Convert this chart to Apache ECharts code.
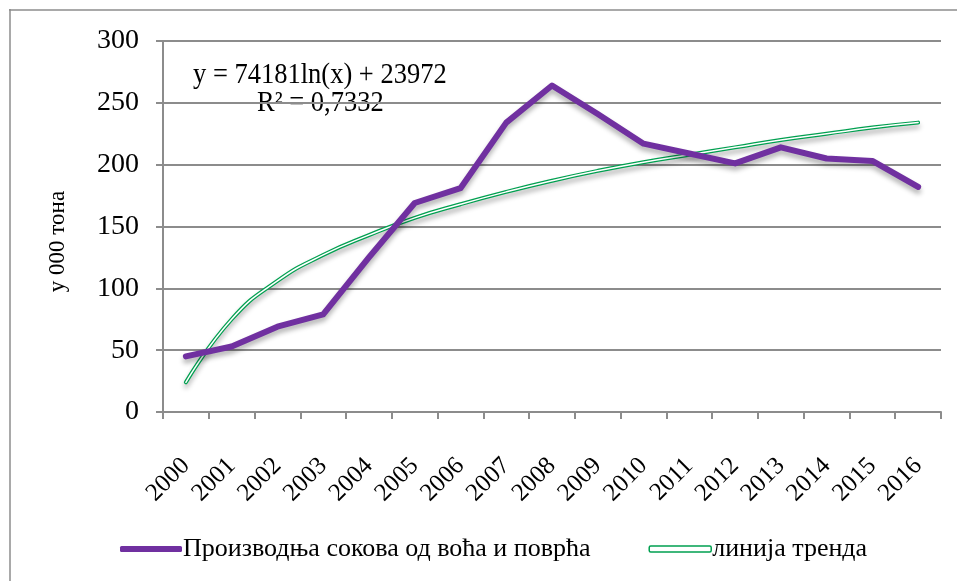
<!DOCTYPE html>
<html lang="sr">
<head>
<meta charset="UTF-8">
<title>Производња сокова</title>
<script src="https://cdn.jsdelivr.net/npm/echarts@6/dist/echarts.min.js"></script>
<style>
  html, body { margin: 0; padding: 0; background: #fff; }
  #container { width: 957px; height: 581px; }
</style>
</head>
<body>
<div id="container"></div>
<script type="text/javascript">
// година
var years = ['2000','2001','2002','2003','2004','2005','2006','2007','2008',
             '2009','2010','2011','2012','2013','2014','2015','2016'];
// производња, у 000 тона
var production = [45, 53, 69, 79, 125, 169, 181, 234, 264, 241, 217, 209, 201, 214, 205, 203, 182];
// линија тренда (očitano sa slike)
var trend = [24, 75, 106, 127, 143, 157, 168, 178, 187, 195, 202, 208, 214, 220, 225, 230, 234];
var yTicks = { min: 0, max: 300, step: 50 };

var seriesName = 'Производња сокова од воћа и поврћа';
var trendName = 'линија тренда';
var serif = '"Liberation Serif", "DejaVu Serif", serif';

var dom = document.getElementById('container');
var myChart = echarts.init(dom);

var option = {
    backgroundColor: '#fff',
    animation: false,
    grid: { left: 163, right: 16, top: 41, bottom: 169 },
    graphic: [
        { type: 'line', shape: { x1: 9, y1: 10, x2: 957, y2: 10 }, style: { stroke: '#8c8c8c', lineWidth: 1.5 } },
        { type: 'line', shape: { x1: 10, y1: 9, x2: 10, y2: 581 }, style: { stroke: '#8c8c8c', lineWidth: 1.5 } },
        { type: 'text', left: 193, top: 61, scaleY: 1.1, style: { text: 'y = 74181ln(x) + 23972', font: '26.5px ' + serif, fill: '#000' } },
        { type: 'text', left: 257, top: 89, scaleY: 1.1, style: { text: 'R² = 0,7332', font: '26.5px ' + serif, fill: '#000' } }
    ],
    legend: {
        bottom: 14,
        left: 115,
        itemWidth: 62,
        itemHeight: 6,
        itemGap: 58,
        textStyle: { fontFamily: serif, fontSize: 26, color: '#000', padding: [0, 0, 0, -4] },
        data: [
            { name: seriesName, icon: 'roundRect', itemStyle: { color: '#7030a0' } },
            { name: trendName, icon: 'roundRect', itemStyle: { color: '#fff', borderColor: '#00a050', borderWidth: 1.5 } }
        ]
    },
    xAxis: {
        type: 'category',
        data: years,
        boundaryGap: true,
        axisLine: { lineStyle: { color: '#8c8c8c', width: 2 } },
        axisTick: { show: true, interval: 0, length: 7, lineStyle: { color: '#8c8c8c', width: 2 } },
        axisLabel: { rotate: 45, interval: 0, margin: 50, fontFamily: serif, fontSize: 25, color: '#000' }
    },
    yAxis: {
        type: 'value',
        min: yTicks.min,
        max: yTicks.max,
        interval: yTicks.step,
        name: 'у 000 тона',
        nameLocation: 'middle',
        nameGap: 94,
        nameTextStyle: { fontFamily: serif, fontSize: 23, color: '#000', padding: [0, 30, 0, 0] },
        axisLine: { show: true, lineStyle: { color: '#8c8c8c', width: 2 } },
        axisTick: { show: true, length: 7, lineStyle: { color: '#8c8c8c', width: 2 } },
        axisLabel: { margin: 24, fontFamily: serif, fontSize: 28, color: '#000' },
        splitLine: { lineStyle: { color: '#8c8c8c', width: 2 } }
    },
    series: [
        {
            name: trendName,
            type: 'line',
            data: trend,
            smooth: true,
            symbol: 'none',
            z: 2,
            lineStyle: {
                color: '#00a050', width: 4, cap: 'round',
                shadowColor: 'rgba(0,0,0,0.3)', shadowBlur: 5, shadowOffsetY: 4
            }
        },
        {
            type: 'line',
            data: trend,
            smooth: true,
            symbol: 'none',
            z: 3,
            silent: true,
            lineStyle: { color: '#fff', width: 1.5, cap: 'round' }
        },
        {
            name: seriesName,
            type: 'line',
            data: production,
            symbol: 'none',
            z: 4,
            lineStyle: {
                color: '#7030a0', width: 6, cap: 'round', join: 'round',
                shadowColor: 'rgba(0,0,0,0.3)', shadowBlur: 5, shadowOffsetY: 4
            }
        }
    ]
};

if (option && typeof option === 'object') {
    myChart.setOption(option, true);
}
</script>
</body>
</html>
